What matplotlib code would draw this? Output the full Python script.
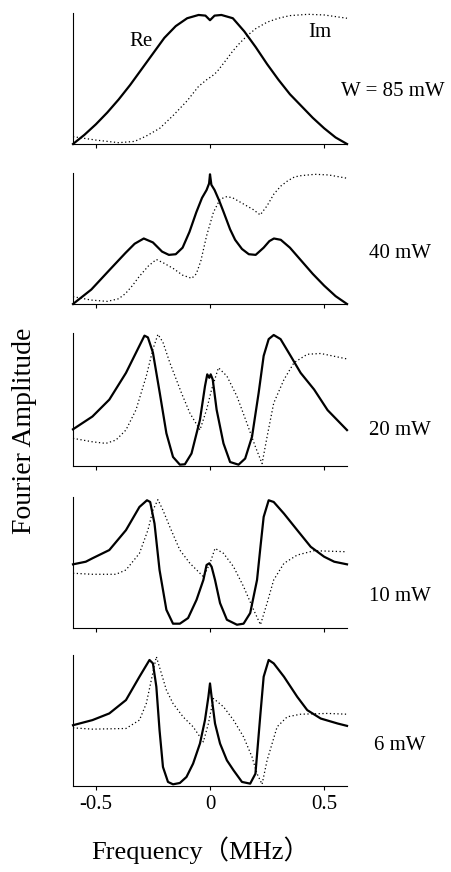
import matplotlib
matplotlib.use("Agg")
import matplotlib.pyplot as plt

plt.rcParams["font.family"] = ["Liberation Serif", "DejaVu Serif"]
plt.rcParams["axes.unicode_minus"] = False

# power labels (top to bottom)
powers = ["W = 85 mW", "40 mW", "20 mW", "10 mW", "6 mW"]

# --- 85 mW ---
re85_f = [-0.6, -0.55, -0.5, -0.45, -0.4, -0.35, -0.3, -0.25, -0.2, -0.15, -0.1, -0.05, -0.02, 0.0,
          0.02, 0.05, 0.1, 0.15, 0.2, 0.25, 0.3, 0.35, 0.4, 0.45, 0.5, 0.55, 0.6]
re85 = [0.0, 0.07, 0.15, 0.24, 0.34, 0.45, 0.57, 0.69, 0.81, 0.90, 0.96, 0.985, 0.98, 0.945,
        0.98, 0.985, 0.96, 0.86, 0.74, 0.61, 0.49, 0.38, 0.29, 0.20, 0.12, 0.05, 0.0]
im85_f = [-0.6, -0.5, -0.4, -0.33, -0.28, -0.22, -0.16, -0.1, -0.05, -0.015, 0.01, 0.03, 0.07, 0.1,
          0.13, 0.165, 0.2, 0.25, 0.3, 0.35, 0.43, 0.5, 0.6]
im85 = [0.056, 0.03, 0.01, 0.02, 0.06, 0.12, 0.22, 0.33, 0.44, 0.49, 0.52, 0.55, 0.64, 0.71,
        0.77, 0.83, 0.88, 0.93, 0.96, 0.98, 0.99, 0.985, 0.96]

# --- 40 mW ---
re40_f = [-0.6, -0.52, -0.44, -0.37, -0.33, -0.29, -0.25, -0.21, -0.18, -0.15, -0.12, -0.09, -0.06,
          -0.035, -0.015, -0.004, 0.0, 0.006, 0.02, 0.04, 0.06, 0.088, 0.11, 0.14, 0.17, 0.2, 0.235,
          0.26, 0.28, 0.31, 0.35, 0.4, 0.45, 0.5, 0.55, 0.6]
re40 = [0.0, 0.11, 0.26, 0.39, 0.46, 0.50, 0.47, 0.40, 0.375, 0.38, 0.43, 0.55, 0.70,
        0.81, 0.87, 0.92, 0.99, 0.91, 0.87, 0.79, 0.70, 0.57, 0.49, 0.42, 0.38, 0.375, 0.43,
        0.48, 0.50, 0.49, 0.43, 0.33, 0.23, 0.14, 0.06, 0.0]
im40_f = [-0.6, -0.52, -0.45, -0.4, -0.37, -0.34, -0.31, -0.27, -0.235, -0.2, -0.16, -0.12, -0.08,
          -0.06, -0.04, -0.015, 0.015, 0.044, 0.074, 0.1, 0.13, 0.16, 0.19, 0.22, 0.25, 0.28, 0.31,
          0.34, 0.37, 0.4, 0.46, 0.52, 0.6]
im40 = [0.056, 0.03, 0.02, 0.04, 0.08, 0.14, 0.21, 0.29, 0.34, 0.31, 0.27, 0.22, 0.196,
        0.23, 0.33, 0.52, 0.70, 0.80, 0.82, 0.81, 0.78, 0.75, 0.72, 0.68, 0.75, 0.84, 0.90,
        0.94, 0.97, 0.98, 0.99, 0.985, 0.96]

# --- 20 mW ---
re20_f = [-0.6, -0.515, -0.441, -0.368, -0.309, -0.287, -0.272, -0.25, -0.22, -0.191, -0.162, -0.132,
          -0.11, -0.081, -0.044, -0.022, -0.012, -0.003, 0.003, 0.012, 0.029, 0.059, 0.088, 0.125,
          0.154, 0.184, 0.213, 0.235, 0.257, 0.279, 0.309, 0.353, 0.397, 0.456, 0.515, 0.6]
re20 = [0.276, 0.372, 0.499, 0.70, 0.904, 0.98, 0.967, 0.853, 0.549, 0.246, 0.068, 0.01,
        0.013, 0.094, 0.347, 0.60, 0.689, 0.663, 0.689, 0.65, 0.423, 0.17, 0.03, 0.01,
        0.056, 0.22, 0.549, 0.828, 0.954, 0.985, 0.954, 0.828, 0.70, 0.575, 0.42, 0.27]
im20_f = [-0.6, -0.515, -0.456, -0.412, -0.368, -0.324, -0.279, -0.25, -0.228, -0.206, -0.176,
          -0.125, -0.088, -0.044, -0.015, 0.007, 0.037, 0.074, 0.118, 0.162, 0.199, 0.228, 0.25,
          0.279, 0.324, 0.368, 0.426, 0.485, 0.6]
im20 = [0.208, 0.182, 0.17, 0.195, 0.271, 0.423, 0.676, 0.878, 0.99, 0.93, 0.777,
        0.549, 0.397, 0.271, 0.423, 0.575, 0.739, 0.676, 0.524, 0.32, 0.144, 0.018, 0.22,
        0.473, 0.65, 0.777, 0.84, 0.846, 0.805]

# --- 10 mW ---
re10_f = [-0.6, -0.544, -0.515, -0.441, -0.368, -0.309, -0.276, -0.262, -0.243, -0.221, -0.191,
          -0.162, -0.132, -0.096, -0.059, -0.029, -0.015, -0.003, 0.007, 0.022, 0.044, 0.074, 0.118,
          0.147, 0.176, 0.206, 0.221, 0.235, 0.257, 0.279, 0.324, 0.382, 0.441, 0.5, 0.544, 0.6]
re10 = [0.486, 0.506, 0.532, 0.595, 0.747, 0.924, 0.975, 0.962, 0.797, 0.443, 0.139,
        0.033, 0.033, 0.076, 0.215, 0.367, 0.481, 0.494, 0.468, 0.367, 0.19, 0.063, 0.025,
        0.033, 0.114, 0.367, 0.62, 0.848, 0.975, 0.962, 0.873, 0.747, 0.62, 0.544, 0.506, 0.486]
im10_f = [-0.6, -0.515, -0.412, -0.368, -0.309, -0.272, -0.25, -0.228, -0.206, -0.176, -0.132,
          -0.088, -0.029, 0.0, 0.022, 0.059, 0.103, 0.147, 0.191, 0.221, 0.25, 0.279, 0.324,
          0.382, 0.456, 0.6]
im10 = [0.418, 0.41, 0.41, 0.443, 0.57, 0.747, 0.899, 0.98, 0.899, 0.772, 0.595,
        0.494, 0.392, 0.494, 0.608, 0.57, 0.468, 0.316, 0.139, 0.025, 0.19, 0.367, 0.494,
        0.557, 0.59, 0.582]

# --- 6 mW ---
re6_f = [-0.6, -0.515, -0.441, -0.368, -0.309, -0.265, -0.25, -0.235, -0.221, -0.206, -0.184,
         -0.162, -0.132, -0.103, -0.074, -0.044, -0.022, -0.007, 0.0, 0.007, 0.022, 0.044, 0.074,
         0.103, 0.14, 0.176, 0.199, 0.221, 0.235, 0.257, 0.279, 0.324, 0.382, 0.426, 0.485, 0.559, 0.6]
re6 = [0.464, 0.503, 0.554, 0.656, 0.834, 0.962, 0.936, 0.758, 0.426, 0.145, 0.031,
       0.013, 0.023, 0.069, 0.171, 0.324, 0.503, 0.681, 0.783, 0.681, 0.477, 0.324, 0.196,
       0.12, 0.031, 0.018, 0.094, 0.554, 0.834, 0.962, 0.936, 0.834, 0.681, 0.579, 0.515, 0.477, 0.459]
im6_f = [-0.6, -0.515, -0.368, -0.309, -0.279, -0.257, -0.235, -0.213, -0.191, -0.162, -0.118,
         -0.074, -0.029, -0.007, 0.015, 0.059, 0.103, 0.147, 0.184, 0.206, 0.228, 0.25, 0.294,
         0.338, 0.397, 0.515, 0.6]
im6 = [0.444, 0.434, 0.439, 0.503, 0.63, 0.809, 0.987, 0.86, 0.732, 0.63, 0.528,
       0.452, 0.337, 0.477, 0.668, 0.605, 0.503, 0.375, 0.222, 0.094, 0.013, 0.196, 0.452,
       0.528, 0.548, 0.554, 0.548]

panels = [
    (re85_f, re85, im85_f, im85),
    (re40_f, re40, im40_f, im40),
    (re20_f, re20, im20_f, im20),
    (re10_f, re10, im10_f, im10),
    (re6_f, re6, im6_f, im6),
]

W, H = 451, 872
fig = plt.figure(figsize=(W / 100, H / 100), dpi=100)

ax_left, ax_right = 73, 347
tops = [13, 173, 333, 497, 655]
bottoms = [144, 304, 466, 628, 786]
label_xy = [(393, 91), (400, 253), (400, 430), (400, 596), (400, 745)]

for i, (rf, rv, imf, imv) in enumerate(panels):
    ax = fig.add_axes([ax_left / W, 1 - bottoms[i] / H,
                       (ax_right - ax_left) / W, (bottoms[i] - tops[i]) / H])
    ax.plot(rf, rv, color="black", lw=1.6, clip_on=False)
    ax.plot(imf, imv, color="black", lw=0.9, ls=(0, (1, 2)), clip_on=False)
    ax.set_xlim(-0.6, 0.6)
    ax.set_ylim(0, 1.0)
    for s in ["top", "right"]:
        ax.spines[s].set_visible(False)
    ax.spines["left"].set_linewidth(0.8)
    ax.spines["bottom"].set_linewidth(0.8)
    ax.set_yticks([])
    ax.set_xticks([-0.5, 0, 0.5])
    ax.tick_params(axis="x", direction="out", length=3, width=0.8)
    if i < 4:
        ax.set_xticklabels([])
    else:
        ax.set_xticklabels(["-0.5", "0", "0.5"], fontsize=15)
    lx, ly = label_xy[i]
    fig.text(lx / W, 1 - ly / H, powers[i], ha="center", va="center", fontsize=15)
    if i == 0:
        ax.text(-0.3, 0.78, "Re", fontsize=15, ha="center", va="center")
        ax.text(0.48, 0.85, "Im", fontsize=15, ha="center", va="center")

fig.text(25 / W, 1 - 431 / H, "Fourier Amplitude", rotation=90, ha="center", va="center",
         fontsize=20)
fig.text(201 / W, 1 - 850 / H, "Frequency（MHz）", ha="center", va="center", fontsize=19,
         family=["Liberation Serif", "Noto Sans CJK JP"])

fig.savefig("out.png", dpi=100)
